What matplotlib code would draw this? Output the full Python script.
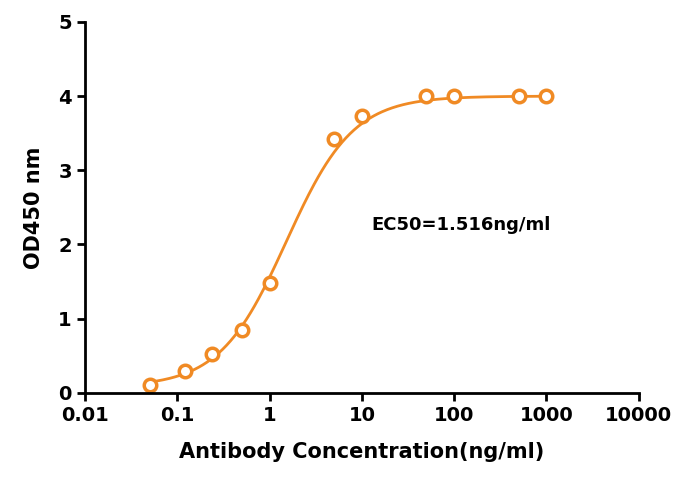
import numpy as np
import matplotlib
matplotlib.use("Agg")
import matplotlib.pyplot as plt

conc = [0.05, 0.12, 0.24, 0.5, 1, 5, 10, 50, 100, 500, 1000]
od = [0.10, 0.30, 0.53, 0.85, 1.48, 3.42, 3.73, 4.0, 4.0, 4.0, 4.0]
bottom, top, ec50, hill = 0.08, 4.0, 1.516, 1.2
xticks = [0.01, 0.1, 1, 10, 100, 1000, 10000]
xticklabels = ["0.01", "0.1", "1", "10", "100", "1000", "10000"]

color = "#F08A24"
fig = plt.figure(figsize=(6.92, 4.88), dpi=100)
ax = fig.add_axes([0.123, 0.195, 0.80, 0.76])
xs = np.logspace(np.log10(0.05), np.log10(1000), 300)
ys = bottom + (top - bottom) / (1 + (ec50 / xs) ** hill)
ax.plot(xs, ys, color=color, lw=2)
ax.plot(conc, od, 'o', mfc='white', mec=color, mew=2.5, ms=9, color=color)
ax.set_xscale('log')
ax.set_xlim(0.01, 10000)
ax.set_ylim(0, 5)
ax.set_xticks(xticks)
ax.set_xticklabels(xticklabels)
ax.minorticks_off()
ax.set_yticks(range(6))
for s in ['top', 'right']:
    ax.spines[s].set_visible(False)
for s in ['left', 'bottom']:
    ax.spines[s].set_linewidth(2)
ax.tick_params(width=2, length=6, labelsize=14)
for l in ax.get_xticklabels() + ax.get_yticklabels():
    l.set_fontweight('bold')
ax.set_xlabel("Antibody Concentration(ng/ml)", fontsize=15, fontweight='bold', labelpad=12)
ax.set_ylabel("OD450 nm", fontsize=15, fontweight='bold', labelpad=10)
ax.text(120, 2.2, "EC50=1.516ng/ml", fontsize=13, fontweight='bold', ha='center')
fig.savefig("out.png", dpi=100)
